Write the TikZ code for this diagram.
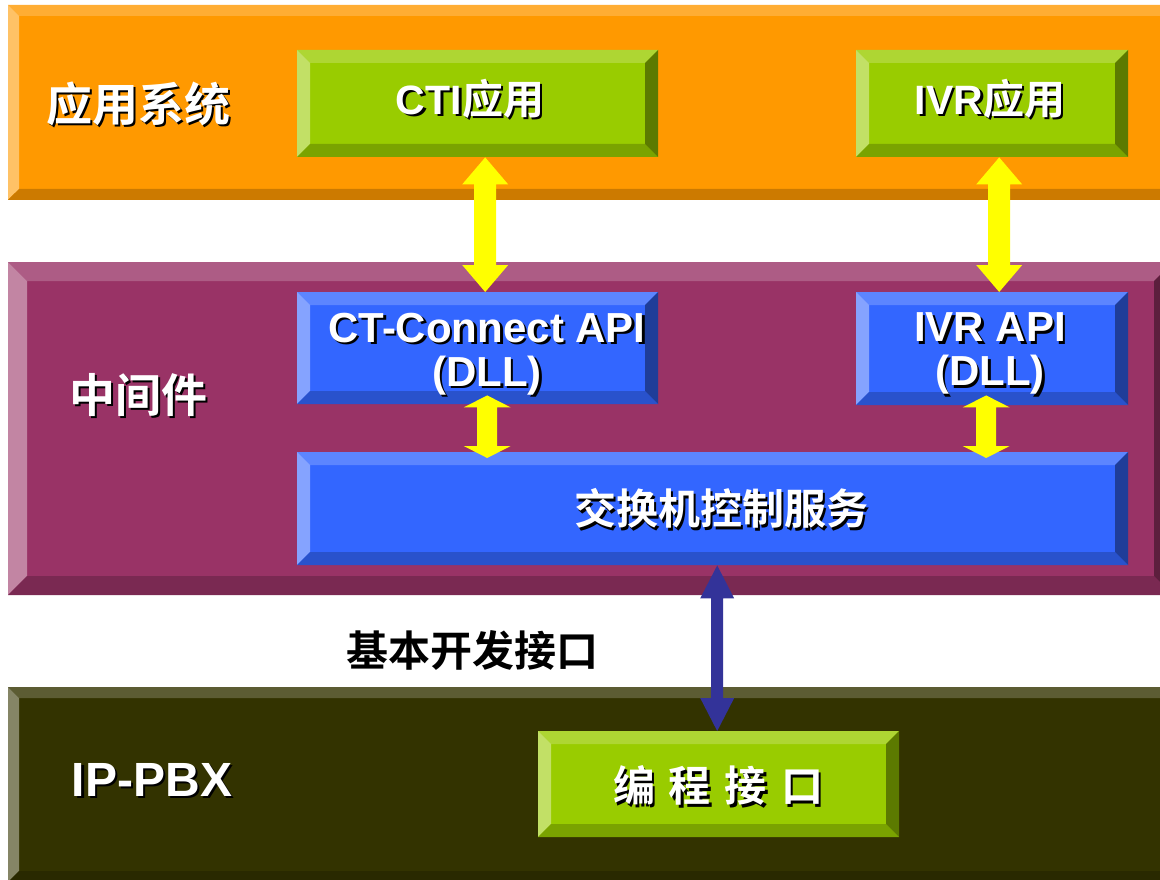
\documentclass[tikz,border=0pt]{standalone}
\usepackage{fontspec}
\setmainfont{Liberation Sans}
\newfontfamily\cjk[BoldFont={Noto Sans CJK SC Bold}]{Noto Sans CJK SC}
\usetikzlibrary{calc}
% colours: F face, T top, L left, B bottom, R right
\definecolor{oF}{HTML}{FF9900}\definecolor{oT}{HTML}{FFAD33}\definecolor{oL}{HTML}{FFC266}\definecolor{oB}{HTML}{CC7A00}\definecolor{oR}{HTML}{995C00}
\definecolor{pF}{HTML}{993366}\definecolor{pT}{HTML}{AD5C85}\definecolor{pL}{HTML}{C285A3}\definecolor{pB}{HTML}{7A2952}\definecolor{pR}{HTML}{5C1F3D}
\definecolor{kF}{HTML}{333300}\definecolor{kT}{HTML}{5C5C33}\definecolor{kL}{HTML}{858566}\definecolor{kB}{HTML}{292900}\definecolor{kR}{HTML}{1F1F00}
\definecolor{gF}{HTML}{99CC00}\definecolor{gT}{HTML}{AED633}\definecolor{gL}{HTML}{C2E066}\definecolor{gB}{HTML}{7AA300}\definecolor{gR}{HTML}{5C7A00}
\definecolor{bF}{HTML}{3366FF}\definecolor{bT}{HTML}{5C85FF}\definecolor{bL}{HTML}{85A3FF}\definecolor{bB}{HTML}{2952CC}\definecolor{bR}{HTML}{1F3D99}
\definecolor{arrY}{HTML}{FFFF00}\definecolor{arrB}{HTML}{333399}
% name, x1, y1, x2, y2, bevel, colour prefix
\newcommand{\bevbox}[7]{%
  \fill[#7F] (#2,#3) rectangle (#4,#5);
  \fill[#7T] (#2,#3) -- (#4,#3) -- ({#4-#6},{#3+#6}) -- ({#2+#6},{#3+#6}) -- cycle;
  \fill[#7L] (#2,#3) -- ({#2+#6},{#3+#6}) -- ({#2+#6},{#5-#6}) -- (#2,#5) -- cycle;
  \fill[#7B] (#2,#5) -- ({#2+#6},{#5-#6}) -- ({#4-#6},{#5-#6}) -- (#4,#5) -- cycle;
  \fill[#7R] (#4,#3) -- (#4,#5) -- ({#4-#6},{#5-#6}) -- ({#4-#6},{#3+#6}) -- cycle;
  \node[boxanchor, minimum width={(#4-#2)*1pt}, minimum height={(#5-#3)*1pt}] (#1) at (#2,#3) {};}
% from, to, shaft half, head half, head length, colour (vertical, top to bottom)
\newcommand{\dblarrow}[6]{%
  \fill[#6] let \p1=(#1), \p2=(#2) in
   (\x1,\y1) -- (\x1+#4,\y1-#5) -- (\x1+#3,\y1-#5) -- (\x1+#3,\y2+#5) -- (\x1+#4,\y2+#5)
   -- (\x1,\y2) -- (\x1-#4,\y2+#5) -- (\x1-#3,\y2+#5) -- (\x1-#3,\y1-#5) -- (\x1-#4,\y1-#5) -- cycle;}
\newcommand{\shd}[1]{\leavevmode\rlap{\kern2.5pt\raisebox{-2.5pt}{\color{black}#1}}{\color{white}#1}}
\tikzset{
  boxanchor/.style={inner sep=0pt, anchor=north west, draw=none},
  lbl/.style={inner sep=0pt, font=\bfseries, align=center, anchor=center},
}
\begin{document}
\begin{tikzpicture}[x=1pt,y=-1pt]
\useasboundingbox (0,0) rectangle (1160,880);
\clip (0,0) rectangle (1160,880);
\fill[white] (0,0) rectangle (1160,880);
% bands
\bevbox{app}{8}{5}{1178}{200}{11}{o}
\bevbox{mid}{8}{262}{1173}{595}{19}{p}
\bevbox{pbx}{8}{687}{1178}{882}{11}{k}
% boxes
\bevbox{cti}{297}{50}{658}{157}{13}{g}
\bevbox{ivr}{856}{50}{1128}{157}{13}{g}
\bevbox{ctapi}{297}{292}{658}{404}{13}{b}
\bevbox{ivrapi}{856}{292}{1128}{405}{13}{b}
\bevbox{sw}{297}{452}{1128}{565}{13}{b}
\bevbox{prog}{538}{731}{899}{837}{13}{g}
% arrows
\dblarrow{[xshift=7.5pt]cti.south}{[xshift=7.5pt]ctapi.north}{11pt}{23pt}{27pt}{arrY}
\dblarrow{[xshift=7pt]ivr.south}{[xshift=7pt]ivrapi.north}{11pt}{23pt}{27pt}{arrY}
\dblarrow{[xshift=9.5pt,yshift=9pt]ctapi.south}{[xshift=-225.5pt,yshift=-6pt]sw.north}{10pt}{23.5pt}{12pt}{arrY}
\dblarrow{[xshift=-6pt,yshift=10pt]ivrapi.south}{[xshift=273.5pt,yshift=-6pt]sw.north}{10pt}{23.5pt}{12pt}{arrY}
\dblarrow{[xshift=4.5pt]sw.south}{[xshift=-1.5pt]prog.north}{6pt}{17pt}{33pt}{arrB}
% labels
\node[lbl, font=\bfseries\cjk\fontsize{46}{50}\selectfont] (tapp) at (138,105) {\shd{应用系统}};
\node[lbl, font=\bfseries\fontsize{41}{44}\selectfont] (tcti) at (470,100) {\shd{CTI{\cjk 应用}}};
\node[lbl, font=\bfseries\fontsize{41}{44}\selectfont] (tivr) at (990,100) {\shd{IVR{\cjk 应用}}};
\node[lbl, font=\bfseries\cjk\fontsize{46}{50}\selectfont] (tmid) at (138,396) {\shd{中间件}};
\node[lbl, font=\bfseries\fontsize{42}{44}\selectfont] (tctapi) at (487,355) {\shd{CT-Connect API}\\\shd{(DLL)}};
\node[lbl, font=\bfseries\fontsize{42}{44}\selectfont] (tivrapi) at (990,355) {\shd{IVR API}\\\shd{(DLL)}};
\node[lbl, font=\bfseries\cjk\fontsize{42}{46}\selectfont] (tsw) at (721,510) {\shd{交换机控制服务}};
\node[lbl, font=\bfseries\cjk\fontsize{42}{46}\selectfont, text=black] (tbase) at (472,650) {基本开发接口};
\node[lbl, font=\bfseries\fontsize{48}{50}\selectfont] (tpbx) at (152,781) {\shd{IP-PBX}};
\node[lbl, font=\bfseries\cjk\fontsize{42}{46}\selectfont] (tprog) at (718,787) {\shd{编\hspace{14pt}程\hspace{14pt}接\hspace{14pt}口}};
\end{tikzpicture}
\end{document}
